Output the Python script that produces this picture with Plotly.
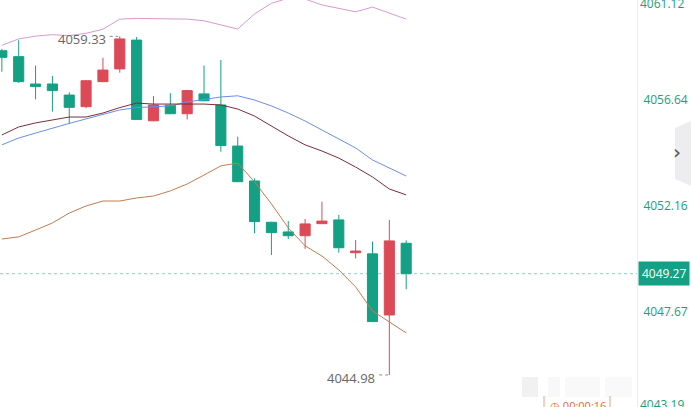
import plotly.graph_objects as go

# ---- data ----
idx = list(range(25))
opens = [4058.72, 4058.47, 4057.31, 4057.31, 4056.84, 4056.35, 4057.41, 4057.95, 4059.17, 4055.75,
         4056.41, 4056.05, 4056.89, 4056.42, 4054.68, 4053.20, 4051.45, 4051.04, 4050.88, 4051.39,
         4051.55, 4050.16, 4050.11, 4047.52, 4050.56]
highs = [4058.80, 4059.17, 4058.09, 4057.65, 4056.96, 4057.48, 4058.42, 4059.33, 4059.30, 4056.80,
         4056.92, 4057.06, 4058.09, 4058.33, 4055.08, 4053.31, 4051.47, 4051.50, 4051.59, 4052.32,
         4051.76, 4050.70, 4050.63, 4051.55, 4050.68]
lows = [4057.83, 4057.36, 4056.66, 4056.14, 4055.61, 4056.28, 4057.39, 4057.79, 4055.79, 4055.73,
        4056.04, 4055.81, 4056.59, 4054.44, 4053.15, 4050.98, 4050.06, 4050.74, 4050.32, 4051.38,
        4050.16, 4049.92, 4047.22, 4044.98, 4048.61]
closes = [4058.44, 4057.41, 4057.20, 4057.03, 4056.32, 4057.45, 4057.90, 4059.22, 4055.81, 4056.42,
          4056.05, 4057.03, 4056.60, 4054.70, 4053.17, 4051.48, 4051.01, 4050.88, 4051.38, 4051.50,
          4050.37, 4050.23, 4047.24, 4050.66, 4049.27]

upper_band = [4058.95, 4059.22, 4059.34, 4059.40, 4059.36, 4059.46, 4059.63, 4060.06, 4060.09, 4060.08,
              4060.08, 4060.06, 4059.99, 4059.81, 4059.64, 4060.28, 4060.73, 4060.95, 4060.91, 4060.66,
              4060.51, 4060.37, 4060.57, 4060.30, 4060.06]
blue_line = [4054.73, 4055.02, 4055.23, 4055.45, 4055.64, 4055.83, 4056.02, 4056.21, 4056.31, 4056.33,
             4056.38, 4056.55, 4056.67, 4056.76, 4056.81, 4056.63, 4056.38, 4056.08, 4055.74, 4055.36,
             4055.00, 4054.60, 4054.09, 4053.75, 4053.41]
maroon_line = [4055.15, 4055.49, 4055.66, 4055.78, 4055.91, 4055.91, 4056.08, 4056.31, 4056.50, 4056.46,
               4056.46, 4056.46, 4056.46, 4056.42, 4056.25, 4055.95, 4055.53, 4055.11, 4054.73, 4054.47,
               4054.17, 4053.79, 4053.37, 4052.86, 4052.61]
lower_band = [4050.74, 4050.83, 4051.12, 4051.42, 4051.84, 4052.14, 4052.35, 4052.35, 4052.48, 4052.56,
              4052.78, 4053.07, 4053.45, 4053.84, 4053.96, 4053.16, 4052.23, 4051.21, 4050.45, 4050.02,
              4049.43, 4048.71, 4047.69, 4047.23, 4046.76]

tick_vals = [4056.64, 4052.16, 4047.67]
tick_text = ["4056.64", "4052.16", "4047.67"]
# outermost labels, pinned to the top and bottom edges of the axis
edge_tick_vals = [4060.74, 4043.71]
edge_tick_text = ["4061.12", "4043.19"]
last_price = 4049.27
max_high_label = "4059.33"
min_low_label = "4044.98"
timer_text = "00:00:16"

GREEN = "#14a084"
RED = "#dc4a57"
TICK_COLOR = "#1a9e80"
W, H = 691, 407
PLOT_W = 637

fig = go.Figure()

fig.add_trace(go.Scatter(x=idx, y=upper_band, mode="lines", line=dict(color="#d99ad0", width=1), hoverinfo="skip"))
fig.add_trace(go.Scatter(x=idx, y=blue_line, mode="lines", line=dict(color="#6b8ee8", width=1), hoverinfo="skip"))
fig.add_trace(go.Scatter(x=idx, y=maroon_line, mode="lines", line=dict(color="#7b2d3b", width=1), hoverinfo="skip"))
fig.add_trace(go.Scatter(x=idx, y=lower_band, mode="lines", line=dict(color="#c27c52", width=1), hoverinfo="skip"))

fig.add_trace(go.Candlestick(
    x=idx, open=opens, high=highs, low=lows, close=closes,
    increasing=dict(line=dict(color=RED, width=1), fillcolor=RED),
    decreasing=dict(line=dict(color=GREEN, width=1), fillcolor=GREEN),
    whiskerwidth=0,
))

i_hi = highs.index(max(highs))
i_lo = lows.index(min(lows))

shapes = [
    # last price dotted line
    dict(type="line", xref="paper", x0=0, x1=1, yref="y", y0=last_price, y1=last_price,
         line=dict(color="#8fcfbf", width=1, dash="dot"), layer="below"),
    # dotted leaders for max/min labels
    dict(type="line", xref="x", x0=i_hi - 0.6, x1=i_hi - 0.1, yref="y", y0=max(highs), y1=max(highs),
         line=dict(color="#888888", width=1, dash="dot")),
    dict(type="line", xref="x", x0=i_lo - 0.6, x1=i_lo - 0.05, yref="y", y0=min(lows), y1=min(lows),
         line=dict(color="#888888", width=1, dash="dot")),
    # right-side collapse tab
    dict(type="path", xref="paper", yref="paper",
         path="M %f %f L %f %f L %f %f L %f %f Z" % (
             675 / PLOT_W, 1 - 128 / H, 691 / PLOT_W, 1 - 121 / H,
             691 / PLOT_W, 1 - 186 / H, 675 / PLOT_W, 1 - 179 / H),
         fillcolor="#ededf0", line=dict(width=0)),
    # timer box borders
    dict(type="line", xref="paper", yref="paper", x0=544 / PLOT_W, x1=544 / PLOT_W,
         y0=0, y1=1 - 396 / H, line=dict(color="#f0a080", width=1)),
    dict(type="line", xref="paper", yref="paper", x0=610 / PLOT_W, x1=610 / PLOT_W,
         y0=0, y1=1 - 396 / H, line=dict(color="#f0a080", width=1)),
]
# blurred watermark-like smudges near bottom right
for x0, x1, op in [(522, 538, 0.14), (548, 560, 0.07), (565, 600, 0.06), (605, 632, 0.06)]:
    shapes.append(dict(type="rect", xref="paper", yref="paper", x0=x0 / PLOT_W, x1=x1 / PLOT_W,
                       y0=1 - 397 / H, y1=1 - 377 / H, fillcolor="#9a9a9a", opacity=op,
                       line=dict(width=0), layer="below"))

annotations = [
    dict(x=i_hi, y=max(highs), xref="x", yref="y", text=max_high_label, showarrow=False,
         xanchor="right", xshift=-12, yshift=-3, font=dict(size=13, color="#666666", family="Open Sans")),
    dict(x=i_lo, y=min(lows), xref="x", yref="y", text=min_low_label, showarrow=False,
         xanchor="right", xshift=-12, yshift=-3, font=dict(size=13, color="#666666", family="Open Sans")),
    dict(x=1, y=last_price, xref="paper", yref="y", text="%.2f" % last_price,
         showarrow=False, xanchor="left", xshift=1, bgcolor=GREEN, borderpad=3,
         font=dict(size=12, color="white", family="Open Sans")),
    dict(x=683 / PLOT_W, y=1 - 152 / H, xref="paper", yref="paper", text="›", showarrow=False,
         font=dict(size=20, color="#555555", family="DejaVu Sans")),
    dict(x=548 / PLOT_W, y=1 - 405 / H, xref="paper", yref="paper", text="◷ " + timer_text,
         showarrow=False, xanchor="left", yanchor="middle",
         font=dict(size=11, color="#e8692f", family="Open Sans")),
]
for v, t in zip(edge_tick_vals, edge_tick_text):
    annotations.append(dict(x=1, y=v, xref="paper", yref="y", text=t, showarrow=False,
                            xanchor="left", yanchor="middle", xshift=1,
                            font=dict(size=12, color=TICK_COLOR, family="Open Sans")))

fig.update_layout(
    width=W, height=H,
    margin=dict(l=0, r=W - PLOT_W, t=0, b=0),
    paper_bgcolor="white", plot_bgcolor="white",
    showlegend=False,
    boxgap=0.4, boxgroupgap=0,
    xaxis=dict(range=[-0.11, 37.7], visible=False, rangeslider=dict(visible=False), fixedrange=True),
    yaxis=dict(range=[4043.62, 4060.87], side="right", tickvals=tick_vals, ticktext=tick_text,
               showgrid=False, zeroline=False, showline=True, linecolor="#eeeeee", linewidth=1,
               ticks="", ticklabelstandoff=3,
               tickfont=dict(size=12, color=TICK_COLOR, family="Open Sans")),
    shapes=shapes,
    annotations=annotations,
)

fig.write_html("out.html", config={"displayModeBar": False},
               post_script="document.body.style.margin='0px';document.body.style.overflow='hidden';")
